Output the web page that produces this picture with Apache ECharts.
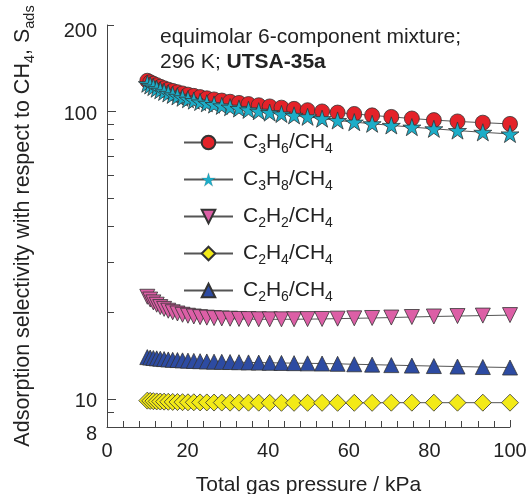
<!DOCTYPE html>
<html>
<head>
<meta charset="utf-8">
<script src="https://cdn.jsdelivr.net/npm/echarts@6/dist/echarts.min.js"></script>
<style>
html,body{margin:0;padding:0;background:#fff;}
#chart{width:528px;height:494px;}
</style>
</head>
<body>
<div id="chart"></div>
<script>
// Total gas pressure (kPa)
var pressure = [10, 10.72, 11.5, 12.33, 13.22, 14.17, 15.2, 16.3, 17.48, 18.74, 20.09, 21.54, 23.1, 24.77, 26.56, 28.48, 30.54, 32.75, 35.11, 37.65, 40.37, 43.29, 46.42, 49.77, 53.37, 57.22, 61.36, 65.79, 70.55, 75.65, 81.11, 86.97, 93.26, 100];

var sC3H6 = [128, 126.5, 125, 123.5, 122, 120.5, 119.2, 118, 116.8, 115.6, 114.5, 113.4, 112.3, 111.2, 110.2, 109.2, 108.2, 107.2, 106.2, 105.2, 104.2, 103.2, 102.2, 101.1, 100.1, 99.2, 98.1, 97, 95.8, 94.6, 93.4, 92.4, 91.5, 90.6];
var sC3H8 = [125, 123.3, 121.7, 120.1, 118.6, 117.1, 115.7, 114.3, 113, 111.7, 110.4, 109.2, 108, 106.9, 105.8, 104.7, 103.6, 102.5, 101.4, 100.3, 99.2, 98.1, 97, 95.9, 94.5, 93.1, 91.9, 90.7, 89.5, 88.3, 87.1, 85.9, 84.7, 83.6];
var sC2H2 = [22.7, 22.2, 21.7, 21.3, 20.9, 20.6, 20.3, 20.05, 19.85, 19.65, 19.5, 19.38, 19.28, 19.2, 19.13, 19.08, 19.04, 19.0, 18.98, 18.96, 18.95, 18.95, 18.96, 18.98, 19.0, 19.05, 19.1, 19.15, 19.22, 19.3, 19.38, 19.45, 19.52, 19.6];
var sC2H4 = [9.88, 9.86, 9.84, 9.82, 9.81, 9.8, 9.79, 9.78, 9.77, 9.76, 9.75, 9.75, 9.74, 9.74, 9.73, 9.73, 9.72, 9.72, 9.72, 9.72, 9.71, 9.71, 9.71, 9.71, 9.71, 9.71, 9.71, 9.71, 9.72, 9.72, 9.72, 9.72, 9.72, 9.72];
var sC2H6 = [14.0, 13.95, 13.9, 13.86, 13.82, 13.78, 13.74, 13.7, 13.67, 13.64, 13.61, 13.58, 13.55, 13.52, 13.5, 13.48, 13.46, 13.44, 13.42, 13.4, 13.38, 13.36, 13.34, 13.32, 13.3, 13.27, 13.22, 13.18, 13.13, 13.08, 13.03, 12.98, 12.93, 12.88];

var seriesNames = ['C3H6/CH4', 'C3H8/CH4', 'C2H2/CH4', 'C2H4/CH4', 'C2H6/CH4'];
var legendRich = {
  'C3H6/CH4': '{m0|C}{s|3}{m|H}{s|6}{m|/CH}{s|4}',
  'C3H8/CH4': '{m0|C}{s|3}{m|H}{s|8}{m|/CH}{s|4}',
  'C2H2/CH4': '{m0|C}{s|2}{m|H}{s|2}{m|/CH}{s|4}',
  'C2H4/CH4': '{m0|C}{s|2}{m|H}{s|4}{m|/CH}{s|4}',
  'C2H6/CH4': '{m0|C}{s|2}{m|H}{s|6}{m|/CH}{s|4}'
};
var yLabelValues = [8, 10, 100, 200];
var yMajorTicks = [10, 100];
var yMinorTicks = [9, 20, 30, 40, 50, 60, 70, 80, 90, 200];

var FONT = "'Liberation Sans', Arial, sans-serif";
var starPath = 'path://M0,-1L0.2245,-0.309L0.951,-0.309L0.363,0.118L0.588,0.809L0,0.382L-0.588,0.809L-0.363,0.118L-0.951,-0.309L-0.2245,-0.309Z';

function pairs(ys) { return pressure.map(function (x, i) { return [x, ys[i]]; }); }

function mkSeries(name, ys, symbol, size, color, rotate) {
  return {
    name: name, type: 'line', data: pairs(ys),
    xAxisIndex: 0, yAxisIndex: 0,
    symbol: symbol, symbolSize: size, symbolRotate: rotate || 0,
    symbolKeepAspect: true,
    showAllSymbol: true,
    lineStyle: { color: '#555', width: 1 },
    itemStyle: { color: color, borderColor: '#333', borderWidth: 0.8 },
    emphasis: { disabled: true },
    animation: false
  };
}

var legendData = seriesNames.map(function (n, i) {
  return i === 1 ? { name: n, itemStyle: { borderWidth: 0.15 } } : { name: n };
});

var chart = echarts.init(document.getElementById('chart'));
var axisColor = '#444';
chart.setOption({
  animation: false,
  backgroundColor: '#fff',
  grid: { left: 107, right: 18, top: 25, bottom: 67, containLabel: false, outerBoundsMode: 'none' },
  xAxis: {
    type: 'value', min: 0, max: 100, interval: 20,
    name: 'Total gas pressure / kPa', nameLocation: 'middle', nameGap: 48,
    nameTextStyle: { fontFamily: FONT, fontSize: 21, color: '#222' },
    axisLine: { show: true, lineStyle: { color: axisColor, width: 1 } },
    axisTick: { show: true, inside: true, length: 7, lineStyle: { color: axisColor } },
    minorTick: { show: true, splitNumber: 5, length: 6, lineStyle: { color: axisColor } },
    axisLabel: { fontFamily: FONT, fontSize: 20, color: '#222', margin: 14 },
    splitLine: { show: false }, minorSplitLine: { show: false }
  },
  yAxis: [{
    type: 'log', logBase: 10, min: 8, max: 200,
    name: '{m|Adsorption selectivity with respect to CH}{s|4}{m|, S}{s|ads}',
    nameLocation: 'middle', nameGap: 73,
    nameTextStyle: {
      fontFamily: FONT, color: '#222',
      rich: {
        m: { fontFamily: FONT, fontSize: 21.5, lineHeight: 22, color: '#222' },
        s: { fontFamily: FONT, fontSize: 14.5, lineHeight: 22, color: '#222', padding: [13, 0, 0, 0] }
      }
    },
    axisLine: { show: true, lineStyle: { color: axisColor, width: 1 } },
    axisTick: { show: true, inside: true, length: 9, customValues: yMajorTicks, lineStyle: { color: axisColor } },
    axisLabel: {
      fontFamily: FONT, fontSize: 20, color: '#222', margin: 10,
      customValues: yLabelValues,
      formatter: function (v) {
        var r = Math.round(v);
        if (r === 8) return '{lo|8}';
        if (r === 200) return '{hi|200}';
        return '{n|' + r + '}';
      },
      rich: {
        n: { fontFamily: FONT, fontSize: 20, color: '#222', padding: [5, 0, 0, 0] },
        lo: { fontFamily: FONT, fontSize: 20, color: '#222', padding: [14, 0, 0, 0] },
        hi: { fontFamily: FONT, fontSize: 20, color: '#222', padding: [12, 0, 0, 0] }
      }
    },
    splitLine: { show: false }
  }, {
    type: 'log', logBase: 10, min: 8, max: 200, position: 'left', offset: 0,
    axisLine: { show: false },
    axisTick: { show: true, inside: true, length: 7, customValues: yMinorTicks, lineStyle: { color: axisColor } },
    axisLabel: { show: false },
    splitLine: { show: false }
  }],
  legend: {
    orient: 'vertical', left: 178, top: 124,
    itemWidth: 49, itemHeight: 17, itemGap: 10,
    data: legendData,
    selectedMode: false,
    formatter: function (name) { return legendRich[name]; },
    textStyle: {
      fontFamily: FONT, color: '#222',
      rich: {
        m0: { fontFamily: FONT, fontSize: 21, lineHeight: 20, color: '#222', padding: [0, 0, 0, 5] },
        m: { fontFamily: FONT, fontSize: 21, lineHeight: 20, color: '#222' },
        s: { fontFamily: FONT, fontSize: 14, lineHeight: 20, color: '#222', padding: [13, 0, 0, 0] }
      }
    }
  },
  graphic: [{
    type: 'text', left: 160, top: 25, silent: true,
    style: {
      text: '{n|equimolar 6-component mixture;}\n{n|296 K; }{b|UTSA-35a}',
      fontFamily: FONT, fontSize: 21, fill: '#222', lineHeight: 25,
      rich: {
        n: { fontFamily: FONT, fontSize: 21, lineHeight: 25, fill: '#222' },
        b: { fontFamily: FONT, fontSize: 21, lineHeight: 25, fontWeight: 'bold', fill: '#222' }
      }
    }
  }],
  series: [
    mkSeries(seriesNames[0], sC3H6, 'circle', 15, '#e42229'),
    mkSeries(seriesNames[1], sC3H8, starPath, 18, '#1cadc8'),
    mkSeries(seriesNames[2], sC2H2, 'triangle', 15, '#dc5fa6', 180),
    mkSeries(seriesNames[3], sC2H4, 'diamond', 17, '#f3ea17'),
    mkSeries(seriesNames[4], sC2H6, 'triangle', 15, '#2d4ba2')
  ]
});
</script>
</body>
</html>
